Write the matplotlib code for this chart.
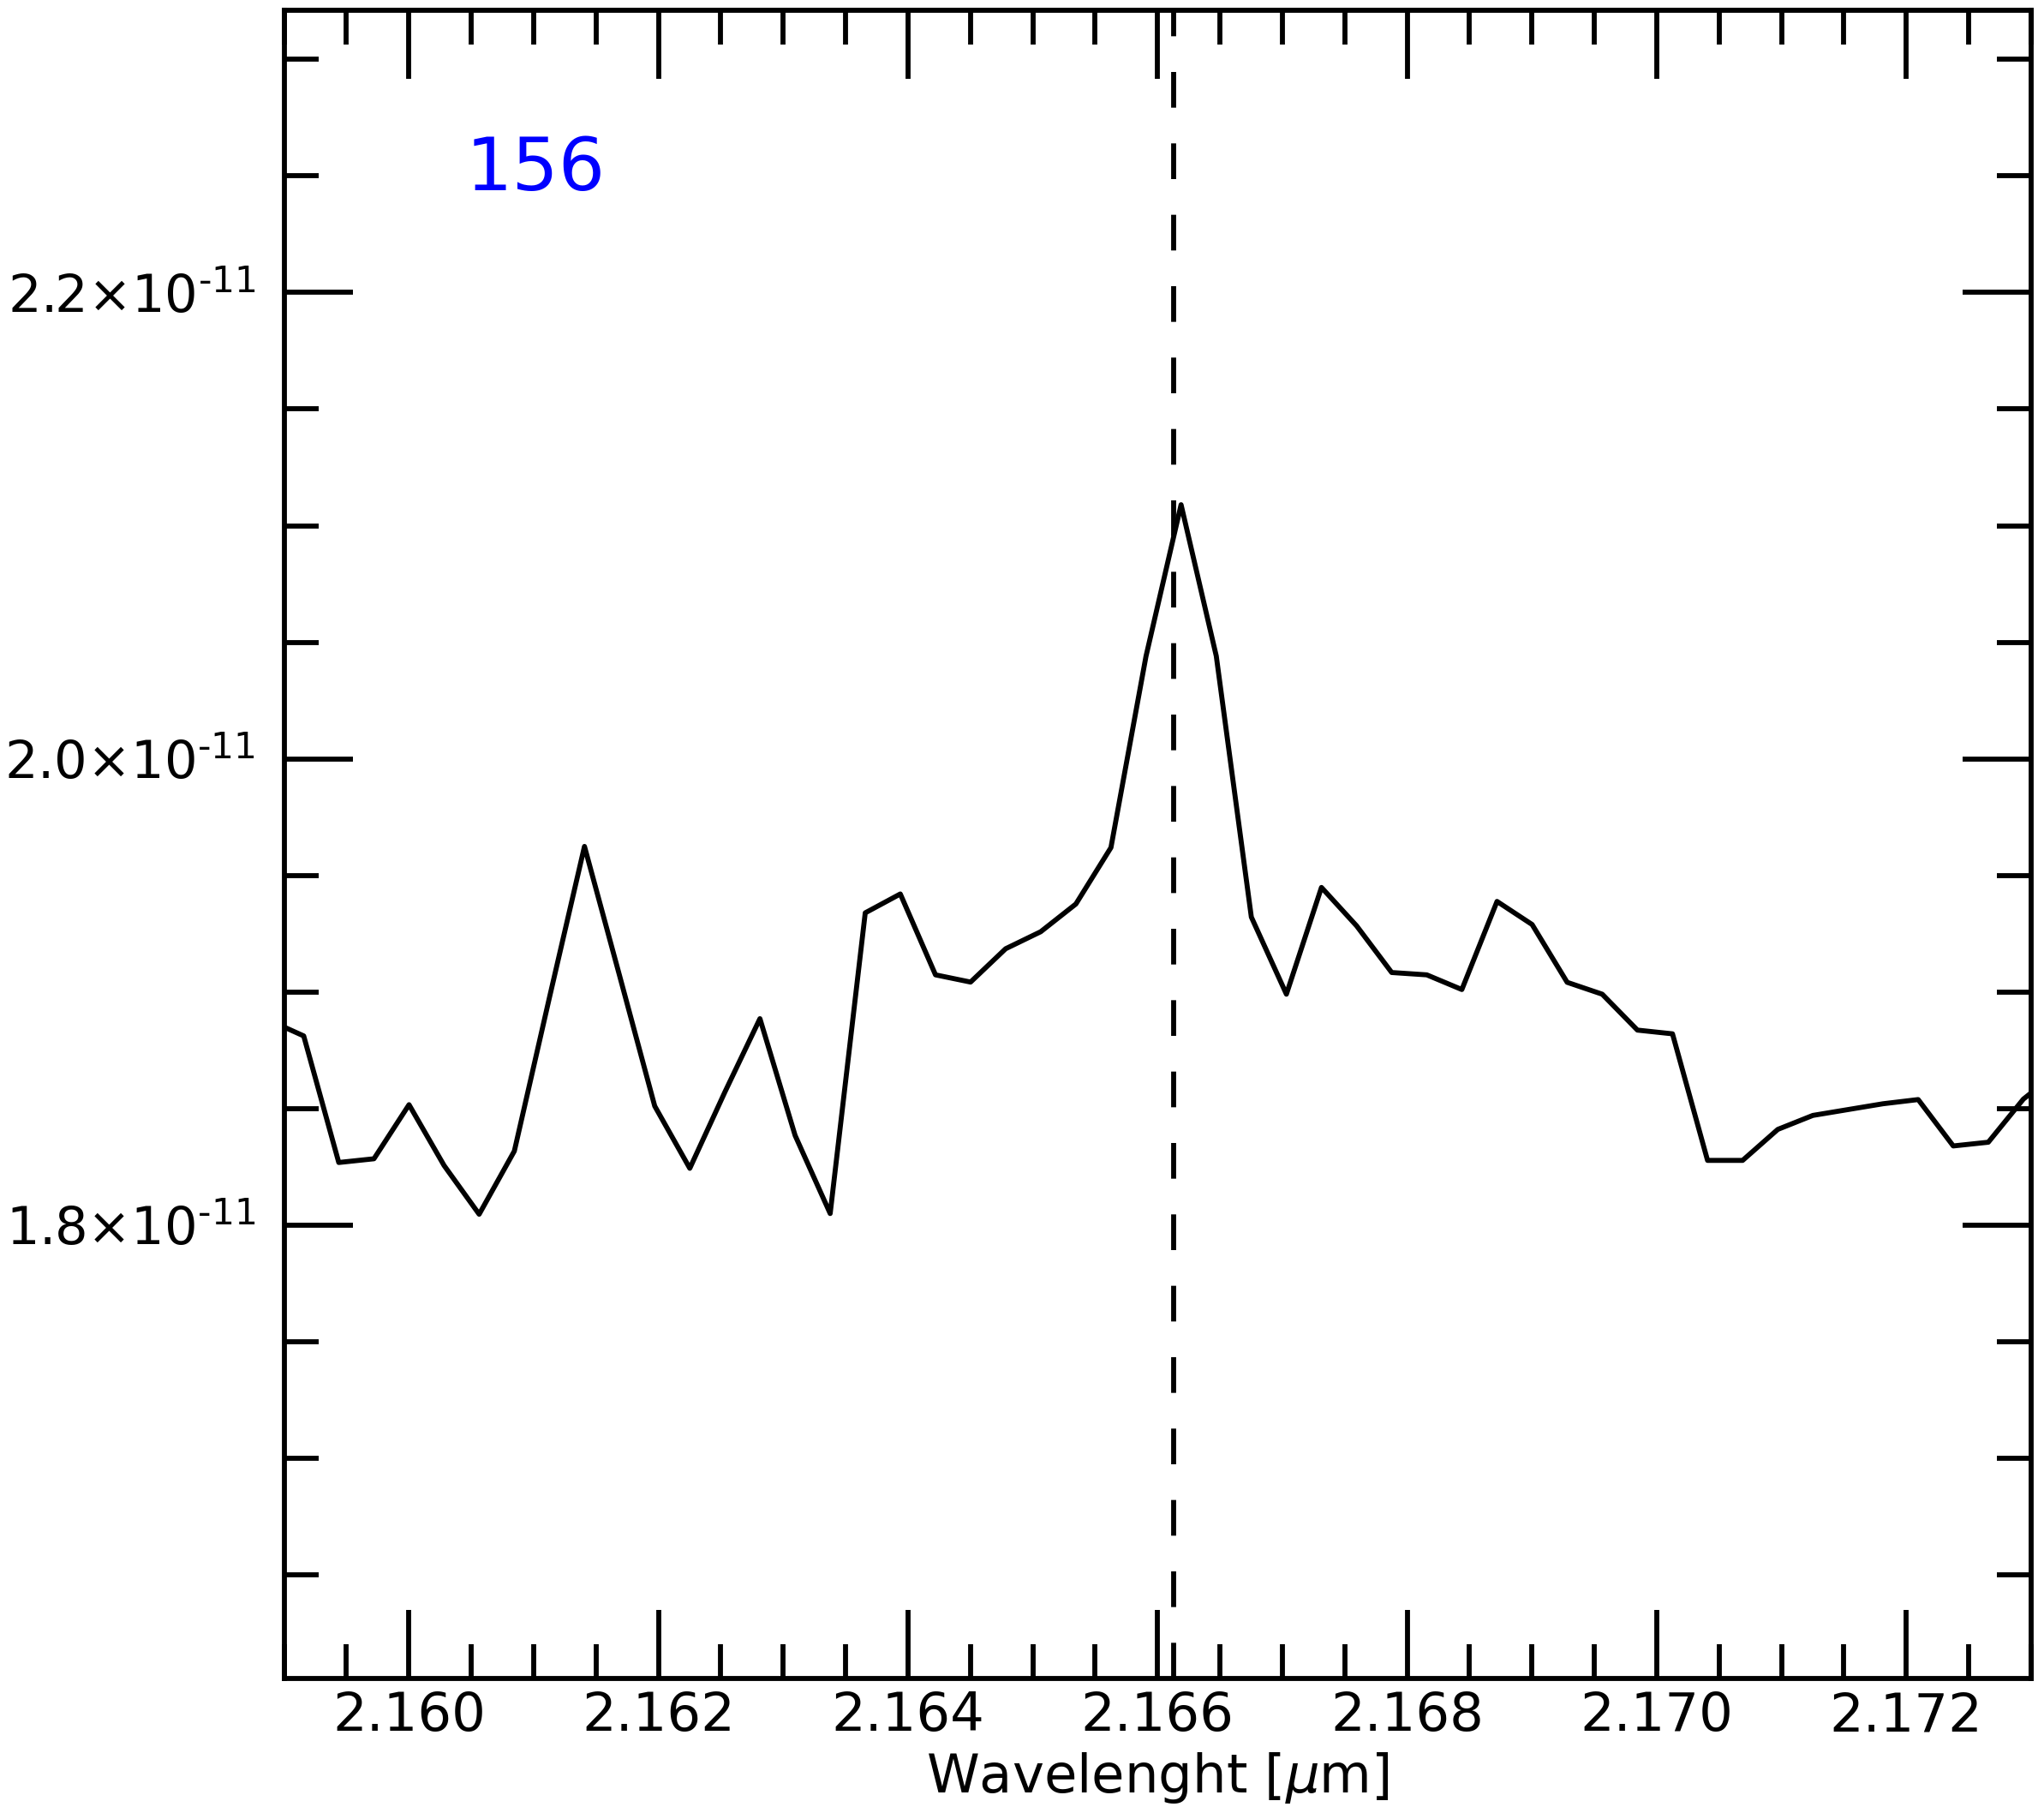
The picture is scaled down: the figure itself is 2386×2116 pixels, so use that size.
import matplotlib
matplotlib.use("Agg")
import matplotlib.pyplot as plt
from matplotlib.ticker import MultipleLocator, FuncFormatter

# wavelength grid of the spectrum (micron)
wavelength = [
    2.158876, 2.159157, 2.159438, 2.159720, 2.160001, 2.160282, 2.160563,
    2.160845, 2.161126, 2.161407, 2.161688, 2.161970, 2.162251, 2.162532,
    2.162813, 2.163095, 2.163376, 2.163657, 2.163938, 2.164220, 2.164501,
    2.164782, 2.165063, 2.165345, 2.165626, 2.165907, 2.166188, 2.166470,
    2.166751, 2.167032, 2.167313, 2.167595, 2.167876, 2.168157, 2.168438,
    2.168720, 2.169001, 2.169282, 2.169563, 2.169845, 2.170126, 2.170407,
    2.170688, 2.170970, 2.171251, 2.171532, 2.171813, 2.172095, 2.172376,
    2.172657, 2.172938, 2.173220,
]
# flux in units of 1e-11
flux = [
    1.8879, 1.8811, 1.8268, 1.8284, 1.8516, 1.8255, 1.8046,
    1.8317, 1.8975, 1.9624, 1.9070, 1.8510, 1.8243, 1.8570,
    1.8885, 1.8384, 1.8049, 1.9339, 1.9420, 1.9073, 1.9042,
    1.9185, 1.9258, 1.9377, 1.9619, 2.0440, 2.1090, 2.0441,
    1.9321, 1.8990, 1.9448, 1.9283, 1.9083, 1.9073, 1.9010,
    1.9388, 1.9289, 1.9041, 1.8990, 1.8836, 1.8820, 1.8277,
    1.8277, 1.8410, 1.8470, 1.8495, 1.8520, 1.8538, 1.8339,
    1.8355, 1.8540, 1.8660,
]
line_center = 2.16613
label = "156"

x_range = (2.159, 2.173)
y_range = (1.6056e-11, 2.321e-11)

LW = 1.4
FS = 15


def sci_label(v, pos):
    # IDL-style label: mantissa x 10^-11 with a plain hyphen in the exponent
    return f"${v / 1e-11:.1f}{{\\times}}10^{{\u2010{11}}}$"


fig = plt.figure(figsize=(2386 / 300, 2116 / 300), dpi=300)
ax = fig.add_axes([0.1390, 0.0744, 0.8547, 0.9198])

ax.plot(wavelength, [f * 1e-11 for f in flux], color="black", lw=LW)
ax.axvline(line_center, color="black", lw=LW, linestyle=(0, (10 / LW, 10 / LW)))

ax.set_xlim(*x_range)
ax.set_ylim(*y_range)

ax.xaxis.set_major_locator(MultipleLocator(0.002))
ax.xaxis.set_minor_locator(MultipleLocator(0.0005))
ax.yaxis.set_major_locator(MultipleLocator(0.2e-11))
ax.yaxis.set_minor_locator(MultipleLocator(0.05e-11))
ax.xaxis.set_major_formatter(FuncFormatter(lambda v, p: f"{v:.3f}"))
ax.yaxis.set_major_formatter(FuncFormatter(sci_label))

ax.tick_params(which="both", direction="in", top=True, right=True, width=LW, labelsize=FS)
ax.tick_params(which="major", length=19.3)
ax.tick_params(which="minor", length=9.5)
ax.tick_params(axis="x", which="major", pad=3.5)
ax.tick_params(axis="y", which="major", pad=8, labelsize=14.6)
for s in ax.spines.values():
    s.set_linewidth(LW)

ax.set_xlabel(r"Wavelenght [$\mu$m]", fontsize=FS, labelpad=2.3)
ax.text(0.104, 0.892, label, transform=ax.transAxes, color="blue",
        fontsize=20.5, ha="left", va="baseline")

fig.savefig("out.png", dpi=300)
